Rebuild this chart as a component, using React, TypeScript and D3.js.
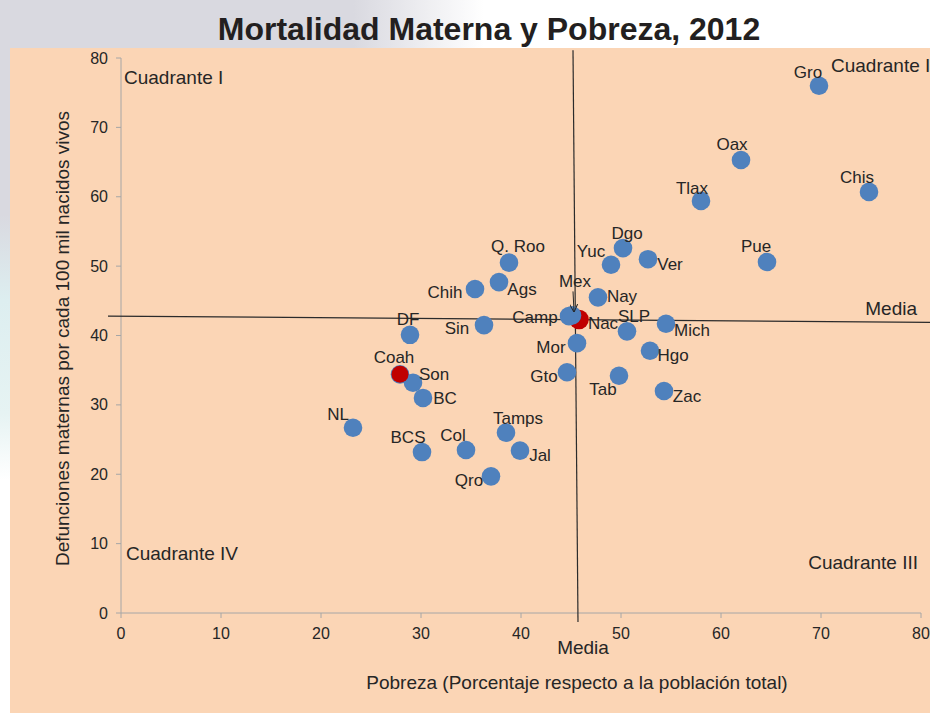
import React from "react";
import * as d3 from "d3";

const states = ["Gro","Oax","Chis","Tlax","Pue","Dgo","Yuc","Ver","Q. Roo","Ags","Chih","Nay","Camp","SLP","Mich","Sin","DF","Mor","Hgo","Gto","Tab","Zac","Son","BC","NL","BCS","Col","Tamps","Jal","Qro","Coah","Mex"];
const poverty = [69.8,62.0,74.8,58.0,64.6,50.2,49.0,52.7,38.8,37.8,35.4,47.7,44.8,50.6,54.5,36.3,28.9,45.6,52.9,44.6,49.8,54.3,29.2,30.2,23.2,30.1,34.5,38.5,39.9,37.0,27.9,45.1];
const mortality = [76.0,65.3,60.7,59.4,50.6,52.6,50.2,51.0,50.5,47.7,46.7,45.5,42.8,40.6,41.7,41.5,40.1,38.9,37.8,34.7,34.2,32.0,33.2,31.0,26.7,23.2,23.5,26.0,23.4,19.7,34.4,42.9];

const highlightNames = ["Nac","Coah"];
const highlightPoverty = [45.8,27.9];
const highlightMortality = [42.3,34.4];

const xTicks = [0,10,20,30,40,50,60,70,80];
const yTicks = [0,10,20,30,40,50,60,70,80];

const meanH = [[-1.3,42.8],[81,41.9]];
const meanV = [[45.2,81.1],[45.7,-1.3]];

const labelOffset: Record<string, [number, number]> = {
  "Gro":[-11,-14],"Oax":[-9,-16],"Chis":[-12,-15],"Tlax":[-9,-13],"Pue":[-11,-16],
  "Dgo":[4,-15],"Yuc":[-20,-14],"Ver":[22,5],"Q. Roo":[9,-17],"Ags":[23,7],
  "Chih":[-30,3],"Nay":[24,-1],"Camp":[-34,1],"SLP":[7,-15],"Mich":[26,6],
  "Sin":[-27,3],"DF":[-2,-16],"Mor":[-26,4],"Hgo":[23,4],"Gto":[-23,4],
  "Tab":[-16,13],"Zac":[23,5],"Son":[21,-9],"BC":[22,0],"NL":[-15,-14],
  "BCS":[-14,-15],"Col":[-13,-15],"Tamps":[12,-15],"Jal":[20,4],"Qro":[-22,4],
  "Coah":[-6,-17],"Mex":[3,-34],"Nac":[24,4]
};

const W = 930, H = 713;
const FONT = "'Liberation Sans', Arial, Helvetica, sans-serif";
const TXT = "#262626";

export default function App() {
  const x = d3.scaleLinear().domain([0, 80]).range([121, 921]);
  const y = d3.scaleLinear().domain([0, 80]).range([613, 58]);
  const r = 9.3;
  const blue = "#4F81BD";
  const red = "#C00000";
  const pts = states.map((s, i) => ({ name: s, px: x(poverty[i]), py: y(mortality[i]) }));
  const hl = highlightNames.map((s, i) => ({ name: s, px: x(highlightPoverty[i]), py: y(highlightMortality[i]) }));
  const line = d3.line<number[]>().x(d => x(d[0])).y(d => y(d[1]));
  const mex = pts.find(p => p.name === "Mex")!;
  const nac = hl[0];
  const coah = hl[1];
  const bluePts = pts.filter(p => p.name !== "Mex" && p.name !== "Coah");
  const coahBlue = pts.find(p => p.name === "Coah")!;

  return (
    <svg width={W} height={H} style={{ position: "absolute", left: 0, top: 0, display: "block" }} fontFamily={FONT}>
      <defs>
        <linearGradient id="topg" x1="0" x2="1" y1="0" y2="0">
          <stop offset="0" stopColor="#D9D9E0" />
          <stop offset="0.38" stopColor="#D9D9E0" />
          <stop offset="0.52" stopColor="#FFFFFF" />
          <stop offset="1" stopColor="#FFFFFF" />
        </linearGradient>
        <linearGradient id="leftg" x1="0" x2="0" y1="0" y2="1">
          <stop offset="0" stopColor="#D9D9E0" />
          <stop offset="0.25" stopColor="#D9D9E0" />
          <stop offset="0.38" stopColor="#DDEEF0" />
          <stop offset="0.55" stopColor="#E6F3F3" />
          <stop offset="0.65" stopColor="#FFFFFF" />
          <stop offset="1" stopColor="#FFFFFF" />
        </linearGradient>
        <marker id="arr" viewBox="0 0 10 10" refX="9" refY="5" markerWidth="8" markerHeight="8" orient="auto">
          <path d="M0,0 L10,5 L0,10" fill="none" stroke="#262626" strokeWidth="1.3" />
        </marker>
      </defs>
      <rect x={0} y={0} width={W} height={H} fill="url(#topg)" />
      <rect x={0} y={48} width={10} height={H - 48} fill="url(#leftg)" />
      <rect x={10} y={48} width={W - 10} height={H - 48} fill="#FBD5B5" />

      <text x={489} y={40} textAnchor="middle" fontSize={32} fontWeight="bold" fill="#231F20">Mortalidad Materna y Pobreza, 2012</text>

      {/* axes */}
      <line x1={x(0)} x2={x(0)} y1={y(80)} y2={y(0)} stroke="#A6A6A6" strokeWidth={1} />
      <line x1={x(0)} x2={x(80)} y1={y(0)} y2={y(0)} stroke="#A6A6A6" strokeWidth={1} />
      {yTicks.map(t => (
        <g key={"y" + t}>
          <line x1={x(0) - 5} x2={x(0)} y1={y(t)} y2={y(t)} stroke="#A6A6A6" />
          <text x={x(0) - 13} y={y(t)} dy="0.35em" textAnchor="end" fontSize={16} fill={TXT}>{t}</text>
        </g>
      ))}
      {xTicks.map(t => (
        <g key={"x" + t}>
          <line x1={x(t)} x2={x(t)} y1={y(0)} y2={y(0) + 5} stroke="#A6A6A6" />
          <text x={x(t)} y={y(0) + 20} dy="0.35em" textAnchor="middle" fontSize={16} fill={TXT}>{t}</text>
        </g>
      ))}

      <text transform={`translate(62,${y(40) + 3}) rotate(-90)`} textAnchor="middle" dy="0.35em" fontSize={19} fill={TXT}>Defunciones maternas por cada 100 mil nacidos vivos</text>
      <text x={577} y={682} textAnchor="middle" dy="0.35em" fontSize={19} fill={TXT}>Pobreza (Porcentaje respecto a la población total)</text>

      {/* mean lines */}
      <path d={line(meanH) || ""} stroke="#2b2b2b" strokeWidth={1.2} fill="none" />
      <path d={line(meanV) || ""} stroke="#2b2b2b" strokeWidth={1.2} fill="none" />

      {/* quadrant labels */}
      <text x={124} y={77} dy="0.35em" fontSize={19} fill={TXT}>Cuadrante I</text>
      <text x={831} y={65} dy="0.35em" fontSize={19} fill={TXT}>Cuadrante II</text>
      <text x={126} y={553} dy="0.35em" fontSize={19} fill={TXT}>Cuadrante IV</text>
      <text x={918} y={562} dy="0.35em" textAnchor="end" fontSize={19} fill={TXT}>Cuadrante III</text>
      <text x={917} y={308} dy="0.35em" textAnchor="end" fontSize={19} fill={TXT}>Media</text>
      <text x={583} y={647} dy="0.35em" textAnchor="middle" fontSize={19} fill={TXT}>Media</text>

      {/* points */}
      <circle cx={nac.px} cy={nac.py} r={r + 0.5} fill={red} />
      {bluePts.map(p => (
        <circle key={p.name} cx={p.px} cy={p.py} r={r} fill={blue} />
      ))}
      <circle cx={mex.px} cy={mex.py} r={r} fill={blue} />
      <circle cx={coahBlue.px} cy={coahBlue.py} r={r} fill={blue} />
      <circle cx={coah.px} cy={coah.py} r={r - 0.8} fill={red} />

      {/* labels */}
      {[...pts, nac].map(p => {
        const o = labelOffset[p.name] || [0, -14];
        return (
          <text key={"l" + p.name} x={p.px + o[0]} y={p.py + o[1]} dy="0.35em" textAnchor="middle" fontSize={17} fill={TXT}>{p.name}</text>
        );
      })}
      <line x1={mex.px + 1} y1={mex.py - 24} x2={mex.px + 2} y2={mex.py - 4} stroke="#262626" strokeWidth={1} markerEnd="url(#arr)" />
    </svg>
  );
}
